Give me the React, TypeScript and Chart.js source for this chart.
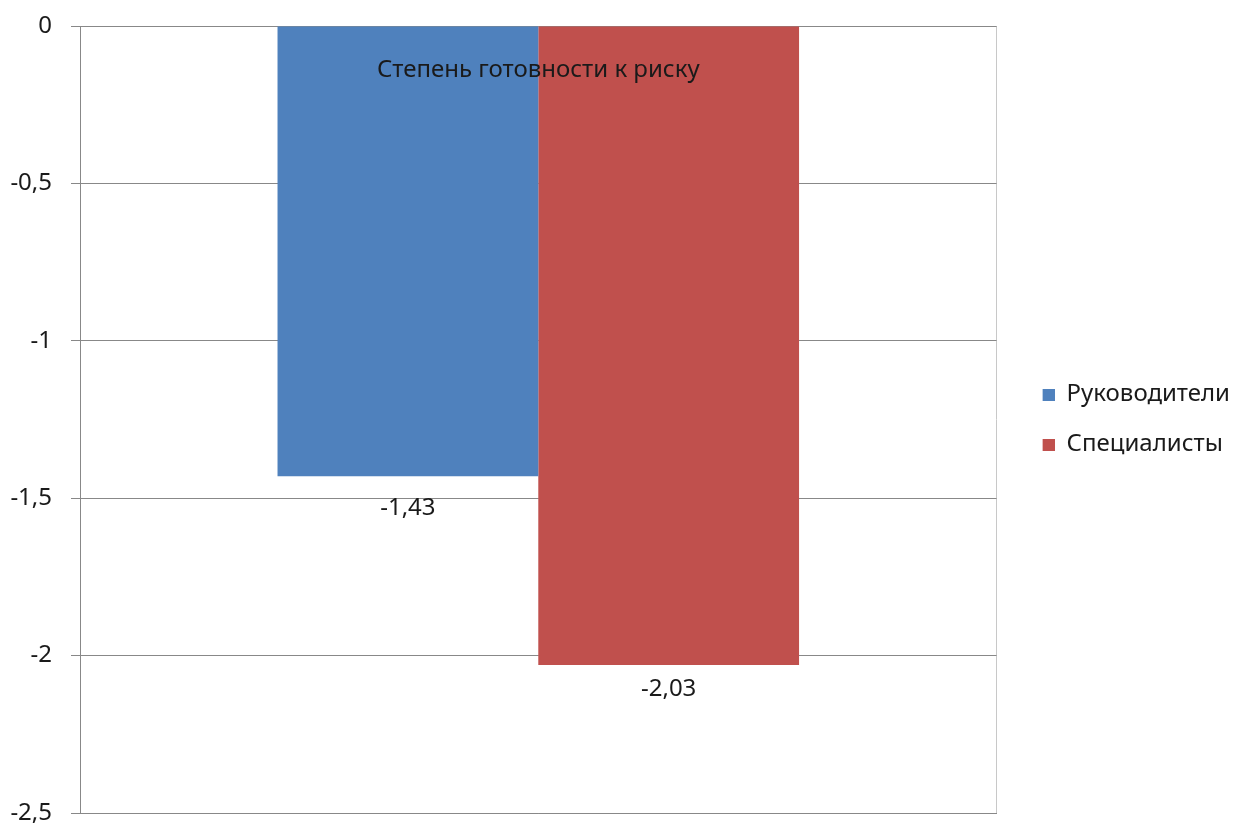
import React, { useEffect, useRef } from "react";
import { Chart, registerables } from "chart.js";

Chart.register(...registerables);

// Chart data
const categories = ["Степень готовности к риску"];
const seriesNames = ["Руководители", "Специалисты"];
const managers = [-1.43];
const specialists = [-2.03];
const yMin = -2.5;
const yMax = 0;
const yStep = 0.5;
const seriesColors = ["#4F81BD", "#C0504D"];

const FONT = '"Noto Sans", "Open Sans", sans-serif';
const FONT_SIZE = 24;
const TEXT = "#1a1a1a";
const GRID = "#888888";

// legend swatch: 12px square sitting at the right end of a wider slot
const SWATCH_SLOT = 32;
const SWATCH_SIZE = 12;

const fmt = (v: number) => String(v).replace(".", ",");

function makeSwatch(color: string) {
  const c = document.createElement("canvas");
  c.width = SWATCH_SLOT;
  c.height = SWATCH_SIZE;
  const g = c.getContext("2d")!;
  g.fillStyle = color;
  g.fillRect(SWATCH_SLOT - SWATCH_SIZE, 0, SWATCH_SIZE, SWATCH_SIZE);
  return c;
}

// Category name inside the plot and value labels under each bar
const labelPlugin = {
  id: "barLabels",
  afterDatasetsDraw(chart: any) {
    const ctx = chart.ctx;
    const xs = chart.scales.x;
    const ys = chart.scales.y;
    ctx.save();
    ctx.font = `${FONT_SIZE}px ${FONT}`;
    ctx.fillStyle = TEXT;
    ctx.textAlign = "center";
    ctx.textBaseline = "middle";
    categories.forEach((c, i) => {
      ctx.fillText(c, xs.getPixelForValue(i), ys.getPixelForValue(0) + 44);
    });
    const offsets = [32, 24];
    chart.data.datasets.forEach((ds: any, di: number) => {
      chart.getDatasetMeta(di).data.forEach((bar: any, i: number) => {
        ctx.fillText(fmt(ds.data[i]), bar.x, bar.y + offsets[di]);
      });
    });
    ctx.restore();
  },
};

export default function App() {
  const canvasRef = useRef<HTMLCanvasElement | null>(null);

  useEffect(() => {
    if (!canvasRef.current) return;
    const swatches = seriesColors.map(makeSwatch);
    const chart = new Chart(canvasRef.current, {
      type: "bar",
      data: {
        labels: categories,
        datasets: [
          {
            label: seriesNames[0],
            data: managers,
            backgroundColor: seriesColors[0],
            borderWidth: 0,
            barPercentage: 1,
            categoryPercentage: 0.569,
          },
          {
            label: seriesNames[1],
            data: specialists,
            backgroundColor: seriesColors[1],
            borderWidth: 0,
            barPercentage: 1,
            categoryPercentage: 0.569,
          },
        ],
      },
      options: {
        animation: false,
        responsive: false,
        devicePixelRatio: 1,
        layout: { padding: { top: 26, bottom: 10, left: 0, right: -6 } },
        plugins: {
          tooltip: { enabled: false },
          legend: {
            position: "right",
            labels: {
              usePointStyle: true,
              pointStyleWidth: SWATCH_SLOT,
              boxHeight: SWATCH_SIZE,
              padding: 26,
              color: TEXT,
              font: { family: FONT, size: FONT_SIZE },
              generateLabels: (ch: any) =>
                Chart.defaults.plugins.legend.labels
                  .generateLabels(ch)
                  .map((item: any, i: number) => ({ ...item, pointStyle: swatches[i] })),
            },
          },
        },
        scales: {
          x: {
            afterFit: (scale: any) => {
              scale.height = 0;
            },
            grid: { offset: true, color: "#c8c8c8", drawTicks: false },
            border: { display: true, color: GRID },
            ticks: { display: false },
          },
          y: {
            min: yMin,
            max: yMax,
            afterFit: (scale: any) => {
              scale.width = 80;
              scale.paddingTop = 0;
              scale.paddingBottom = 0;
            },
            ticks: {
              stepSize: yStep,
              padding: 19,
              color: TEXT,
              font: { family: FONT, size: FONT_SIZE, lineHeight: 1 },
              callback: (v: any) => fmt(Number(v)),
            },
            grid: { color: GRID, tickLength: 9 },
            border: { display: true, color: GRID },
          },
        },
      },
      plugins: [labelPlugin],
    });
    return () => chart.destroy();
  }, []);

  return (
    <div style={{ position: "absolute", left: 0, top: 0, width: 1234, height: 823, background: "#fff" }}>
      <canvas ref={canvasRef} width={1234} height={823} />
    </div>
  );
}
